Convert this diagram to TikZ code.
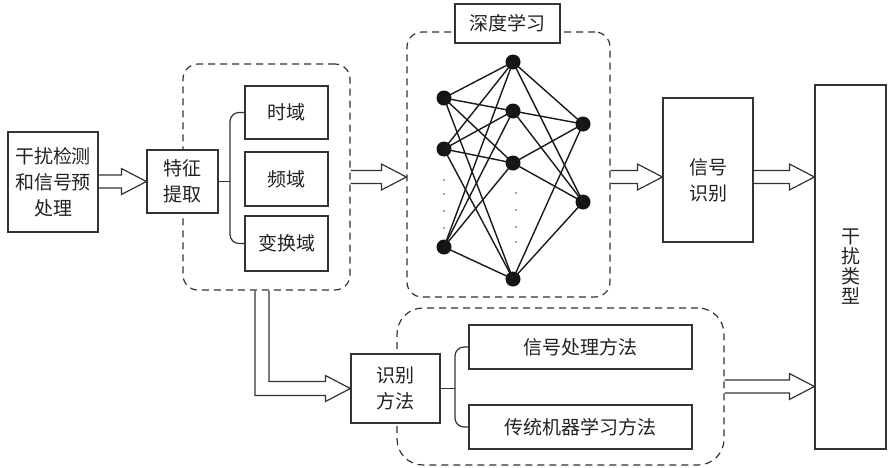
\documentclass[tikz,border=0pt]{standalone}
\usepackage{fontspec}
\newfontfamily\cjk{Noto Sans CJK SC}
\usetikzlibrary{calc}
\definecolor{ink}{HTML}{333333}
\definecolor{txt}{HTML}{222222}
\tikzset{
  box/.style={draw=ink, line width=1.2pt, fill=white, inner sep=0pt, align=center,
    text=txt, font=\cjk\fontsize{19pt}{26pt}\selectfont},
  dbox/.style={draw=ink, line width=1.2pt, dash pattern=on 7pt off 5pt, rounded corners=#1, inner sep=0pt},
  dbox/.default=15pt,
  hollow/.style={draw=ink, line width=1.2pt, line join=miter},
  brace/.style={draw=ink, line width=1.2pt, rounded corners=9pt},
  neuron/.style={circle, fill=black!92, minimum size=15pt, inner sep=0pt},
  nedge/.style={draw=black!90, line width=1.4pt},
  ndot/.style={circle, fill=black!70, minimum size=1.8pt, inner sep=0pt},
}
\newcommand\harrow[2]{\draw[hollow] ($(#1)+(0,-6.5)$) -- ($(#2)+(-25,-6.5)$) -- ($(#2)+(-25,-13)$) -- (#2) -- ($(#2)+(-25,13)$) -- ($(#2)+(-25,6.5)$) -- ($(#1)+(0,6.5)$);}
\begin{document}
\begin{tikzpicture}[x=1pt,y=-1pt]
\useasboundingbox (0,0) rectangle (894,467);
% dashed groups
\node[dbox, minimum width=167pt, minimum height=226pt] (fed) at (266.5,177) {};
\node[dbox, minimum width=203pt, minimum height=265pt] (dld) at (508.5,164.5) {};
\node[dbox=26pt, minimum width=327pt, minimum height=157pt] (med) at (560.5,386.5) {};
% boxes
\node[box, minimum width=90pt, minimum height=100pt] (pre) at (53,182) {干扰检测\\和信号预\\处理};
\node[box, minimum width=71pt, minimum height=63pt] (feat) at (182.5,181.5) {特征\\提取};
\node[box, minimum width=83pt, minimum height=53pt] (time) at (286.5,112.5) {时域};
\node[box, minimum width=83pt, minimum height=54pt] (freq) at (286.5,179) {频域};
\node[box, minimum width=83pt, minimum height=55pt] (trans) at (286.5,243.5) {变换域};
\node[box, minimum width=105pt, minimum height=39pt] (dll) at (507.5,23.5) {深度学习};
\node[box, minimum width=90pt, minimum height=144pt] (sig) at (708,170) {};
\node[text=txt, align=center, font=\cjk\fontsize{19pt}{26pt}\selectfont] (sigt) at (708,180) {信号\\识别};
\node[box, minimum width=71pt, minimum height=364pt, font=\cjk\fontsize{19pt}{20pt}\selectfont] (type) at (850.5,267) {干\\扰\\类\\型};
\node[box, minimum width=89pt, minimum height=69pt] (meth) at (395.5,388.5) {识别\\方法};
\node[box, minimum width=223pt, minimum height=44pt] (sp) at (580.5,347) {信号处理方法};
\node[box, minimum width=223pt, minimum height=44pt] (ml) at (580.5,427) {传统机器学习方法};
% braces
\draw[brace] (time.west) -- (time.west -| 230,0) -- (trans.west -| 230,0) -- (trans.west);
\draw[brace] (feat.east) -- (feat.east -| 230,0);
\draw[brace] (sp.west) -- (sp.west -| 455,0) -- (ml.west -| 455,0) -- (ml.west);
\draw[brace] (meth.east) -- (meth.east -| 455,0);
% neural network
\node[neuron] (a1) at (444,98) {};
\node[neuron] (a2) at (444,149) {};
\node[neuron] (a3) at (444,247) {};
\node[neuron] (b1) at (513,62) {};
\node[neuron] (b2) at (513,111) {};
\node[neuron] (b3) at (513,163) {};
\node[neuron] (b4) at (513,279) {};
\node[neuron] (c1) at (583,124) {};
\node[neuron] (c2) at (583,202) {};
\foreach \i in {1,2,3}{\foreach \j in {1,2,3,4}{\draw[nedge] (a\i.center) -- (b\j.center);}}
\foreach \j in {1,2,3,4}{\foreach \k in {1,2}{\draw[nedge] (b\j.center) -- (c\k.center);}}
\foreach \y [count=\n] in {180,194,211,228}{\node[ndot] (da\n) at (444,\y) {};}
\foreach \y [count=\n] in {193,210,227,242}{\node[ndot] (db\n) at (516,\y) {};}
% arrows
\coordinate (s1) at (pre.east |- feat.west);
\harrow{s1}{feat.west}
\coordinate (t2) at (dld.west |- fed.east);
\harrow{fed.east}{t2}
\coordinate (s3) at (dld.east |- fed.east);
\coordinate (t3) at (sig.west |- fed.east);
\harrow{s3}{t3}
\coordinate (s4) at (sig.east |- fed.east);
\coordinate (t4) at (type.west |- fed.east);
\harrow{s4}{t4}
\coordinate (t5) at (type.west |- med.east);
\harrow{med.east}{t5}
\coordinate (e0) at ($(fed.south)+(-4.5,0)$);
\draw[hollow] ($(e0)+(-7,0)$) -- ($(e0 |- meth.west)+(-7,7)$) -- ($(meth.west)+(-25,7)$) -- ($(meth.west)+(-25,13)$) -- (meth.west) -- ($(meth.west)+(-25,-13)$) -- ($(meth.west)+(-25,-7)$) -- ($(e0 |- meth.west)+(7,-7)$) -- ($(e0)+(7,0)$);
\end{tikzpicture}
\end{document}
